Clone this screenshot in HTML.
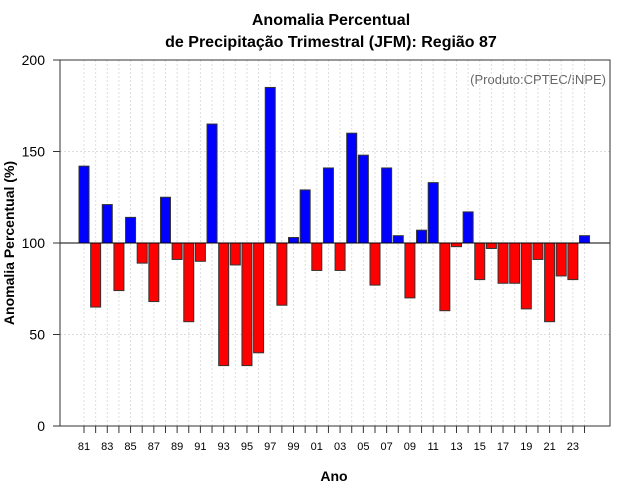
<!DOCTYPE html>
<html><head><meta charset="utf-8"><style>
body{margin:0;background:#fff}
svg{display:block;font-family:"Liberation Sans",sans-serif}
</style></head><body>
<svg id="chart" width="640" height="500" viewBox="0 0 640 500">
<text x="331" y="25" font-size="16" font-weight="bold" text-anchor="middle">Anomalia Percentual</text>
<text x="331" y="47" font-size="16" font-weight="bold" text-anchor="middle">de Precipitação Trimestral (JFM): Região 87</text>
<text x="606" y="84" font-size="13" fill="#666" text-anchor="end">(Produto:CPTEC/INPE)</text>
<text transform="translate(14,243) rotate(-90)" font-size="14" font-weight="bold" text-anchor="middle">Anomalia Percentual (%)</text>
<text x="334" y="481" font-size="14" font-weight="bold" text-anchor="middle">Ano</text>
<g id="grid"></g><g id="bars"></g><g id="axes"></g>
</svg>
<script>
const years=[1981,1982,1983,1984,1985,1986,1987,1988,1989,1990,1991,1992,1993,1994,1995,1996,1997,1998,1999,2000,2001,2002,2003,2004,2005,2006,2007,2008,2009,2010,2011,2012,2013,2014,2015,2016,2017,2018,2019,2020,2021,2022,2023,2024];
const values=[142,65,121,74,114,89,68,125,91,57,90,165,33,88,33,40,185,66,103,129,85,141,85,160,148,77,141,104,70,107,133,63,98,117,80,97,78,78,64,91,57,82,80,104];
const yTicks=[0,50,100,150,200];
const L=60,R=610,T=60,B=426;
const x=yr=>84+(yr-1981)*11.64;
const y=v=>B-(v-0)*(B-T)/200;
const NS='http://www.w3.org/2000/svg';
function mk(tag,attrs,parent){const e=document.createElementNS(NS,tag);for(const k in attrs)e.setAttribute(k,attrs[k]);parent.appendChild(e);return e;}
const grid=document.getElementById('grid'),bars=document.getElementById('bars'),axes=document.getElementById('axes');
years.forEach(yr=>{const g=mk('line',{x1:x(yr),x2:x(yr),y1:T,y2:B,stroke:'#ddd','stroke-dasharray':'2,2'},grid);

});
yTicks.forEach(v=>{const g=mk('line',{x1:L,x2:R,y1:y(v),y2:y(v),stroke:'#ddd','stroke-dasharray':'2,2'},grid);

});
values.forEach((v,i)=>{const top=Math.min(y(v),y(100)),h=Math.abs(y(v)-y(100));
const r=mk('rect',{x:x(years[i])-5,y:top,width:10,height:h,fill:v>=100?'#0000ff':'#ff0000',stroke:'#333','stroke-width':1},bars);

});
const base=mk('line',{x1:L,x2:R,y1:y(100),y2:y(100),stroke:'#000'},axes);


const frame=mk('rect',{x:L,y:T,width:R-L,height:B-T,fill:'none',stroke:'#333'},axes);


yTicks.forEach(v=>{mk('line',{x1:L-7,x2:L,y1:y(v),y2:y(v),stroke:'#333'},axes);
const t=mk('text',{x:L-15,y:y(v)+5,'font-size':14,'text-anchor':'end'},axes);t.textContent=v;

});
years.forEach(yr=>{mk('line',{x1:x(yr),x2:x(yr),y1:B,y2:B+7,stroke:'#333'},axes);
if(yr%2===1&&yr<2024){const t=mk('text',{x:x(yr),y:B+24,'font-size':11,'text-anchor':'middle'},axes);t.textContent=String(yr).slice(2);

}});
</script>
</body></html>
